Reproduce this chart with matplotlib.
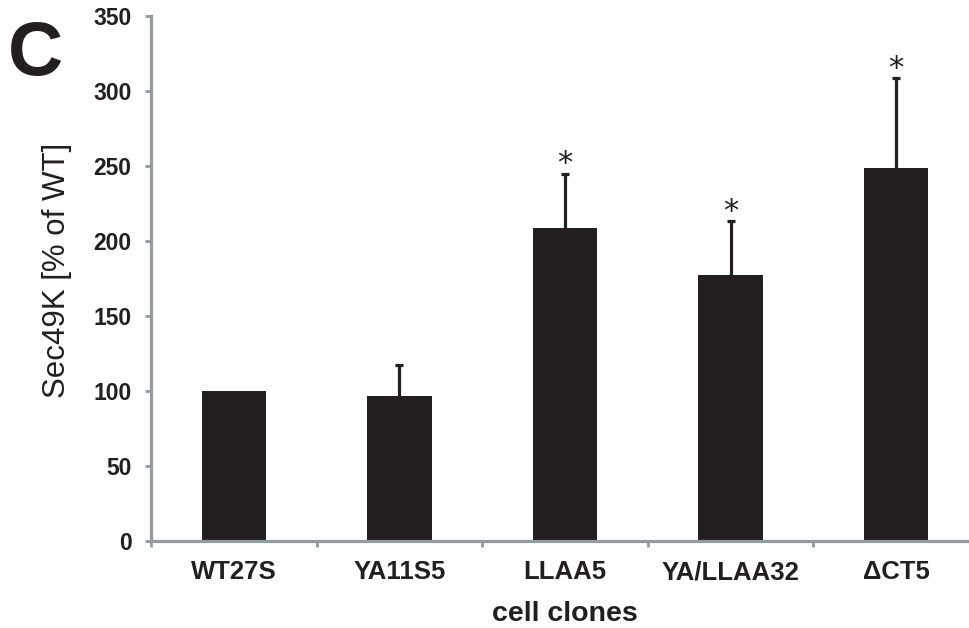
import matplotlib
matplotlib.use("Agg")
import matplotlib.pyplot as plt
import numpy as np

plt.rcParams['font.family'] = ['Liberation Sans', 'DejaVu Sans']

clones = ['WT27S', 'YA11S5', 'LLAA5', 'YA/LLAA32', '\u0394CT5']
sec49k = [100, 96.5, 209, 177.5, 248.5]
sem_up = [0, 21, 36, 36, 60]
signif = [False, False, True, True, True]
yticks = [0, 50, 100, 150, 200, 250, 300, 350]

bar_col = '#231f20'
axis_col = '#939aa0'

fig = plt.figure(figsize=(9.69, 6.28), dpi=100)
ax = fig.add_axes([151 / 969, 87 / 628, 828 / 969, 525 / 628])

x = np.arange(len(clones))
vals = np.array(sec49k)
errs = np.array(sem_up)
ax.bar(x, vals, width=0.39, color=bar_col, zorder=2)

# WT is the reference (no error), only draw the others
has_err = errs > 0
eb = ax.errorbar(x[has_err], vals[has_err], yerr=[np.zeros(has_err.sum()), errs[has_err]],
                 fmt='none', ecolor=bar_col, elinewidth=2.3, capsize=3, capthick=2.3, zorder=1)
eb[1][0].set_visible(False)  # lower caps

for xi, v, e, s in zip(x, sec49k, sem_up, signif):
    if s:
        ax.annotate('*', (xi, v + e), xytext=(0, 7), textcoords='offset points',
                    ha='center', va='center', fontsize=22, color=bar_col,
                    family='DejaVu Sans')

ax.set_xlim(-0.5, len(clones) - 0.5)
ax.set_ylim(0, 350)
ax.set_yticks(yticks)
ax.set_yticklabels([str(t) for t in yticks], fontsize=16.5, fontweight='bold', color='#231f20')

# tick marks sit between the categories, labels at the centres
ax.set_xticks(np.arange(-0.5, len(clones), 1.0))
ax.set_xticklabels([])
ax.set_xticks(x, minor=True)
ax.set_xticklabels(clones, minor=True, fontsize=18.5, fontweight='bold', color='#231f20')
ax.tick_params(axis='x', which='minor', length=0, pad=14)
ax.tick_params(axis='both', which='major', direction='out', length=4, width=2, color=axis_col)
ax.tick_params(axis='y', pad=10)

for side in ['top', 'right']:
    ax.spines[side].set_visible(False)
for side in ['left', 'bottom']:
    ax.spines[side].set_color(axis_col)
    ax.spines[side].set_linewidth(2.3)

ax.set_ylabel('Sec49K [% of WT]', fontsize=22.5, color='#231f20')
ax.yaxis.set_label_coords(-0.096, 0.516)
ax.set_xlabel('cell clones', fontsize=20.5, fontweight='bold', color='#231f20', labelpad=12)

fig.text(8 / 969, 1 - 75 / 628, 'C', fontsize=55, fontweight='bold', color='#231f20',
         ha='left', va='baseline')

fig.savefig('out.png', dpi=100)
